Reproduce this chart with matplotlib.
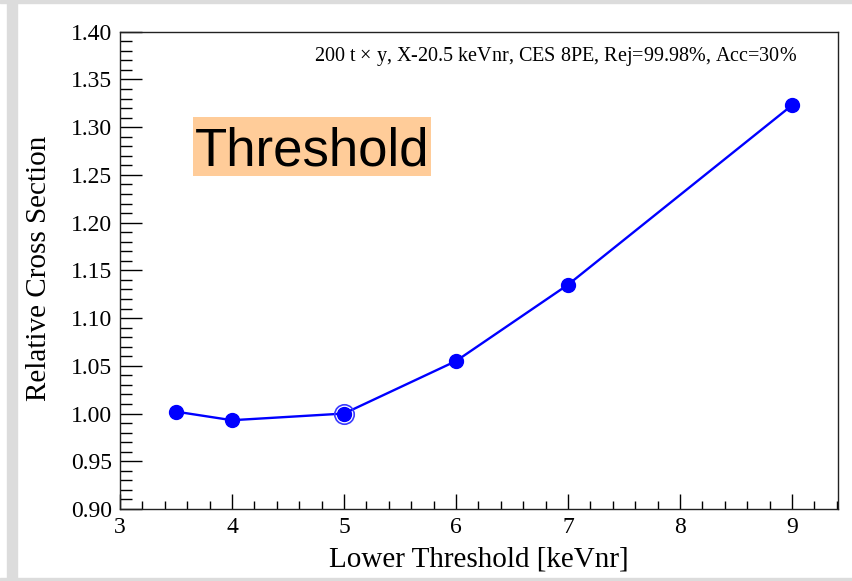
import matplotlib
matplotlib.use("Agg")
import matplotlib.pyplot as plt
from matplotlib.patches import Rectangle
from matplotlib.ticker import MultipleLocator, FormatStrFormatter

# Relative cross section vs. lower energy threshold
thresholds = [3.5, 4.0, 5.0, 6.0, 7.0, 9.0]
rel_xsec = [1.002, 0.993, 1.000, 1.055, 1.135, 1.323]
reference_threshold = 5.0
reference_value = 1.000

annotation = "200 t $\\times$ y, X-20.5 keVnr, CES 8PE, Rej=99.98%, Acc=30%"
xlabel = "Lower Threshold [keVnr]"
ylabel = "Relative Cross Section"
tag = "Threshold"

serif = ["Liberation Serif", "DejaVu Serif"]
plt.rcParams["mathtext.fontset"] = "custom"
plt.rcParams["mathtext.rm"] = "Liberation Serif"

fig = plt.figure(figsize=(8.52, 5.81), dpi=100)

# light grey canvas border
for rect in [(7 / 852, 0, 10 / 852, 1), (0, 1 - 3 / 581, 1, 3 / 581), (0, 0, 1, 3 / 581)]:
    fig.patches.append(Rectangle(rect[:2], rect[2], rect[3], transform=fig.transFigure,
                                 color="#dcdcdc", zorder=0))

ax = fig.add_axes([120 / 852, 1 - 509 / 581, 718 / 852, (509 - 31.7) / 581])

ax.plot(thresholds, rel_xsec, color="#0000ff", lw=1.7, marker="o", ms=10,
        mfc="#0000ff", mec="#0000ff", zorder=3)
ax.plot([reference_threshold], [reference_value], ls="none", marker="o", ms=14,
        mfc="none", mec="#3a3aff", mew=1.2, zorder=4)

ax.set_xlim(3, 9.41)
ax.set_ylim(0.90, 1.40)
ax.xaxis.set_major_locator(MultipleLocator(1))
ax.xaxis.set_minor_locator(MultipleLocator(0.2))
ax.yaxis.set_major_locator(MultipleLocator(0.05))
ax.yaxis.set_minor_locator(MultipleLocator(0.01))
ax.yaxis.set_major_formatter(FormatStrFormatter("%.2f"))

ax.tick_params(axis="both", which="both", direction="in", color="black",
               top=False, right=False, width=1)
ax.tick_params(axis="y", which="major", length=15.6, pad=5.5)
ax.tick_params(axis="y", which="minor", length=8.4)
ax.tick_params(axis="x", which="major", length=10.8, pad=6)
ax.tick_params(axis="x", which="minor", length=5.5)
for lab in ax.get_xticklabels() + ax.get_yticklabels():
    lab.set_fontfamily(serif)
    lab.set_fontsize(17)

for sp in ax.spines.values():
    sp.set_linewidth(1)
    sp.set_color("#222222")

ax.set_xlabel(xlabel, fontsize=21, family=serif, labelpad=6)
ax.set_ylabel(ylabel, fontsize=21, family=serif)
ax.yaxis.set_label_coords(-0.113, 0.505)
ax.yaxis.label.set_va("center")

ax.text(0.943, 0.947, annotation, transform=ax.transAxes, ha="right", va="center",
        fontsize=14.5, family=serif)

# highlighted tag in the upper left
ax.add_patch(Rectangle((0.1017, 0.6977), 0.3315, 0.1236, transform=ax.transAxes,
                       fc="#ffcc99", ec="none", zorder=2))
ax.text(0.1045, 0.7207, tag, transform=ax.transAxes, ha="left", va="baseline",
        fontsize=38, family=["Liberation Sans", "DejaVu Sans"], zorder=3)

fig.savefig("out.png", dpi=100)
